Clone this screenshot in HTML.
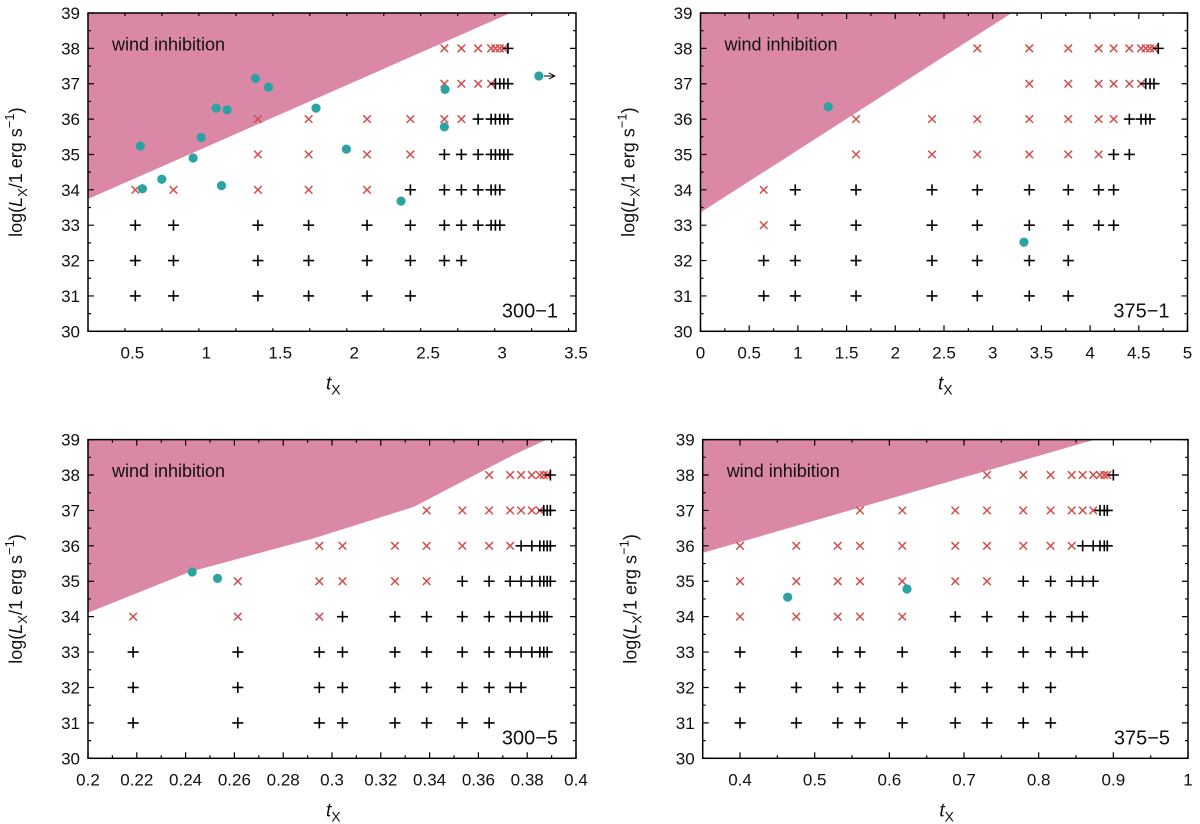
<!DOCTYPE html>
<html><head><meta charset="utf-8">
<style>
html,body{margin:0;padding:0;background:#fff;}
svg{display:block;font-family:"Liberation Sans",sans-serif;}
</style></head>
<body>
<svg id="chart" width="1200" height="824" xmlns="http://www.w3.org/2000/svg"></svg>
<script>
// ---- data (t_X, log L_X) ----
const p1Ticks=[0.5,1,1.5,2,2.5,3,3.5];
const p1TickLabels=["0.5","1","1.5","2","2.5","3","3.5"];
const p1Plus=[[31,[0.52,0.778,1.349,1.692,2.087,2.38]],[32,[0.52,0.778,1.349,1.692,2.087,2.38,2.61,2.725]],[33,[0.52,0.778,1.349,1.692,2.087,2.38,2.61,2.725,2.838,2.926,2.955,2.985]],[34,[2.38,2.61,2.725,2.838,2.926,2.955,2.985]],[35,[2.61,2.725,2.838,2.926,2.955,2.985,3.012,3.04]],[36,[2.838,2.926,2.955,2.985,3.012,3.04]],[37,[2.955,2.985,3.012,3.04]],[38,[3.04]]];
const p1Cross=[[34,[0.52,0.778,1.349,1.692,2.087]],[35,[1.349,1.692,2.087,2.38]],[36,[1.349,1.692,2.087,2.38,2.61,2.725]],[37,[2.61,2.725,2.838,2.926]],[38,[2.61,2.725,2.838,2.926,2.955,2.985,3.012]]];
const p1CircT=[0.554,0.568,0.699,0.911,0.965,1.067,1.103,1.141,1.333,1.421,1.742,1.947,2.317,2.61,2.615,3.249];
const p1CircL=[35.24,34.03,34.30,34.90,35.48,36.31,34.12,36.26,37.15,36.90,36.31,35.15,33.68,35.78,36.84,37.22];
const p1RegionT=[0.2,3.057];
const p1RegionL=[33.74,39];

const p2Ticks=[0,0.5,1,1.5,2,2.5,3,3.5,4,4.5,5];
const p2TickLabels=["0","0.5","1","1.5","2","2.5","3","3.5","4","4.5","5"];
const p2Plus=[[31,[0.649,0.973,1.597,2.377,2.842,3.376,3.776]],[32,[0.649,0.973,1.597,2.377,2.842,3.376,3.776]],[33,[0.973,1.597,2.377,2.842,3.376,3.776,4.088,4.242]],[34,[0.973,1.597,2.377,2.842,3.376,3.776,4.088,4.242]],[35,[4.242,4.403]],[36,[4.403,4.523,4.571,4.615]],[37,[4.571,4.615,4.656]],[38,[4.70]]];
const p2Cross=[[33,[0.649]],[34,[0.649]],[35,[1.597,2.377,2.842,3.376,3.776,4.088]],[36,[1.597,2.377,2.842,3.376,3.776,4.088,4.242]],[37,[3.376,3.776,4.088,4.242,4.403,4.523]],[38,[2.842,3.376,3.776,4.088,4.242,4.403,4.523,4.571,4.615,4.656]]];
const p2CircT=[1.312,3.321];
const p2CircL=[36.35,32.52];
const p2RegionT=[0,3.195];
const p2RegionL=[33.36,39];

const p3Ticks=[0.2,0.22,0.24,0.26,0.28,0.3,0.32,0.34,0.36,0.38,0.4];
const p3TickLabels=["0.2","0.22","0.24","0.26","0.28","0.3","0.32","0.34","0.36","0.38","0.4"];
const p3Plus=[[31,[0.2185,0.2614,0.2948,0.3043,0.3258,0.3388,0.3534,0.3644]],[32,[0.2185,0.2614,0.2948,0.3043,0.3258,0.3388,0.3534,0.3644,0.373,0.3775]],[33,[0.2185,0.2614,0.2948,0.3043,0.3258,0.3388,0.3534,0.3644,0.373,0.3775,0.3819,0.3852,0.3868,0.3882]],[34,[0.3043,0.3258,0.3388,0.3534,0.3644,0.373,0.3775,0.3819,0.3852,0.3868,0.3882]],[35,[0.3534,0.3644,0.373,0.3775,0.3819,0.3852,0.3868,0.3882,0.3895]],[36,[0.3775,0.3819,0.3852,0.3868,0.3882,0.3895]],[37,[0.3868,0.3882,0.3895]],[38,[0.3895]]];
const p3Cross=[[34,[0.2185,0.2614,0.2948]],[35,[0.2614,0.2948,0.3043,0.3258,0.3388]],[36,[0.2948,0.3043,0.3258,0.3388,0.3534,0.3644,0.373]],[37,[0.3388,0.3534,0.3644,0.373,0.3775,0.3819,0.3852]],[38,[0.3644,0.373,0.3775,0.3819,0.3852,0.3868,0.3882]]];
const p3CircT=[0.2427,0.2531];
const p3CircL=[35.26,35.08];
const p3RegionT=[0.2,0.2419,0.2924,0.3335,0.3745,0.388];
const p3RegionL=[34.11,35.27,36.21,37.1,38.57,39];

const p4Ticks=[0.4,0.5,0.6,0.7,0.8,0.9,1];
const p4TickLabels=["0.4","0.5","0.6","0.7","0.8","0.9","1"];
const p4Plus=[[31,[0.40,0.4754,0.5308,0.5607,0.6173,0.6883,0.7308,0.7794,0.816]],[32,[0.40,0.4754,0.5308,0.5607,0.6173,0.6883,0.7308,0.7794,0.816]],[33,[0.40,0.4754,0.5308,0.5607,0.6173,0.6883,0.7308,0.7794,0.816,0.8442,0.8589]],[34,[0.6883,0.7308,0.7794,0.816,0.8442,0.8589]],[35,[0.7794,0.816,0.8442,0.8589,0.8731]],[36,[0.8589,0.8731,0.8821,0.8879,0.8919]],[37,[0.8821,0.8879,0.8919]],[38,[0.90]]];
const p4Cross=[[34,[0.40,0.4754,0.5308,0.5607,0.6173]],[35,[0.40,0.4754,0.5308,0.5607,0.6173,0.6883,0.7308]],[36,[0.40,0.4754,0.5308,0.5607,0.6173,0.6883,0.7308,0.7794,0.816,0.8442]],[37,[0.5607,0.6173,0.6883,0.7308,0.7794,0.816,0.8442,0.8589,0.8731]],[38,[0.7308,0.7794,0.816,0.8442,0.8589,0.8731,0.8821,0.8879,0.8919]]];
const p4CircT=[0.4638,0.6236];
const p4CircL=[34.55,34.78];
const p4RegionT=[0.35,0.875];
const p4RegionL=[35.8,39];

const yTicks=[30,31,32,33,34,35,36,37,38,39];

const NS="http://www.w3.org/2000/svg";
const svg=document.getElementById('chart');
function mk(tag,attrs,parent){const e=document.createElementNS(NS,tag);for(const k in attrs)e.setAttribute(k,attrs[k]);(parent||svg).appendChild(e);return e;}

const panels=[
 {id:'p1',label:'300\u22121',x0:88,x1:576,y0:13,y1:331.3,tmin:0.2,tmax:3.5,minor:0.25,ticks:p1Ticks,tl:p1TickLabels,plus:p1Plus,cross:p1Cross,ct:p1CircT,cl:p1CircL,rt:p1RegionT,rl:p1RegionL,arrow:true},
 {id:'p2',label:'375\u22121',x0:700.5,x1:1187.5,y0:13,y1:331.3,tmin:0,tmax:5,minor:0.25,ticks:p2Ticks,tl:p2TickLabels,plus:p2Plus,cross:p2Cross,ct:p2CircT,cl:p2CircL,rt:p2RegionT,rl:p2RegionL},
 {id:'p3',label:'300\u22125',x0:88,x1:576,y0:439.6,y1:758.3,tmin:0.2,tmax:0.4,minor:0.01,ticks:p3Ticks,tl:p3TickLabels,plus:p3Plus,cross:p3Cross,ct:p3CircT,cl:p3CircL,rt:p3RegionT,rl:p3RegionL},
 {id:'p4',label:'375\u22125',x0:702.7,x1:1188,y0:439.6,y1:758.3,tmin:0.35,tmax:1,minor:0.05,ticks:p4Ticks,tl:p4TickLabels,plus:p4Plus,cross:p4Cross,ct:p4CircT,cl:p4CircL,rt:p4RegionT,rl:p4RegionL}
];

panels.forEach(p=>{
 const g=mk('g',{});
 
 
 const xs=t=>p.x0+(t-p.tmin)/(p.tmax-p.tmin)*(p.x1-p.x0);
 const ys=l=>p.y1-(l-30)/9*(p.y1-p.y0);
 const cp=mk('clipPath',{id:'clip'+p.id},g);
 mk('rect',{x:p.x0,y:p.y0,width:p.x1-p.x0,height:p.y1-p.y0},cp);
 let d='M'+p.x0+','+p.y0;
 for(let i=0;i<p.rt.length;i++)d+=' L'+xs(p.rt[i]).toFixed(1)+','+ys(p.rl[i]).toFixed(1);
 d+=' L'+xs(p.rt[p.rt.length-1]).toFixed(1)+','+p.y0+' Z';
 const reg=mk('path',{d:d,fill:'#db88a6','clip-path':'url(#clip'+p.id+')'},g);
 
 
 const rt=mk('text',{x:p.x0+24,y:ys(38)+2,'font-size':18,fill:'#111'},g);
 rt.textContent='wind inhibition';
 
 
 p.cross.forEach(row=>row[1].forEach(t=>{
  const x=xs(t),y=ys(row[0]),a=3.8;
  const m=mk('path',{d:`M${x-a},${y-a}L${x+a},${y+a}M${x-a},${y+a}L${x+a},${y-a}`,stroke:'#d0504f','stroke-width':1.5,fill:'none'},g);
  
  
 }));
 p.plus.forEach(row=>row[1].forEach(t=>{
  const x=xs(t),y=ys(row[0]),a=5.5;
  const m=mk('path',{d:`M${x-a},${y}L${x+a},${y}M${x},${y-a}L${x},${y+a}`,stroke:'#000','stroke-width':1.6,fill:'none'},g);
  
  
 }));
 p.ct.forEach((t,i)=>{
  const c=mk('circle',{cx:xs(t),cy:ys(p.cl[i]),r:4.6,fill:'#2ca3a3'},g);
  
  
 });
 if(p.arrow){
  const i=p.ct.length-1,x=xs(p.ct[i]),y=ys(p.cl[i]);
  const ar=mk('path',{d:`M${x+5},${y}L${x+16},${y}M${x+10},${y-3}L${x+16},${y}L${x+10},${y+3}`,stroke:'#000','stroke-width':1,fill:'none'},g);
  
  
 }
 const fr=mk('rect',{x:p.x0,y:p.y0,width:p.x1-p.x0,height:p.y1-p.y0,fill:'none',stroke:'#000','stroke-width':1.5},g);
 
 
 let td='';
 for(let l=30;l<=39.001;l+=0.5){const y=ys(l),L=(Math.abs(l-Math.round(l))<0.01)?6:3;td+=`M${p.x0},${y}h${L}M${p.x1},${y}h${-L}`;}
 const nMin=Math.round((p.tmax-p.tmin)/p.minor);
 for(let k=0;k<=nMin;k++){const t=p.tmin+k*p.minor;const x=xs(t);const maj=p.ticks.some(v=>Math.abs(v-t)<p.minor*0.01);const L=maj?6:3;td+=`M${x},${p.y1}v${-L}M${x},${p.y0}v${L}`;}
 mk('path',{d:td,stroke:'#000','stroke-width':1.2,fill:'none'},g);
 yTicks.forEach(l=>{
  const tx=mk('text',{x:p.x0-8,y:ys(l)+6,'font-size':17,'text-anchor':'end',fill:'#111'},g);
  tx.textContent=String(l);
  
  
 });
 p.ticks.forEach((t,i)=>{
  const tx=mk('text',{x:xs(t),y:p.y1+27,'font-size':17,'text-anchor':'middle',fill:'#111'},g);
  tx.textContent=p.tl[i];
  
  
 });
 const pl=mk('text',{x:p.x1-18,y:p.y1-14,'font-size':20,'text-anchor':'end',fill:'#111'},g);
 pl.textContent=p.label;
 
 
 const xt=mk('text',{x:(p.x0+p.x1)/2-6,y:p.y1+58,'font-size':19,fill:'#111'},g);
 xt.innerHTML='<tspan font-style="italic">t</tspan><tspan font-size="14" dy="5">X</tspan>';
 
 
 const cx=p.x0-66,cy=(p.y0+p.y1)/2;
 const yt=mk('text',{x:cx,y:cy,'font-size':18,'text-anchor':'middle',fill:'#111',transform:`rotate(-90 ${cx} ${cy})`},g);
 yt.innerHTML='log(<tspan font-style="italic">L</tspan><tspan font-size="13" dy="5">X</tspan><tspan dy="-5">/1 erg s</tspan><tspan font-size="13" dy="-8">\u22121</tspan><tspan dy="8">)</tspan>';
 
 
});
</script>
</body></html>
